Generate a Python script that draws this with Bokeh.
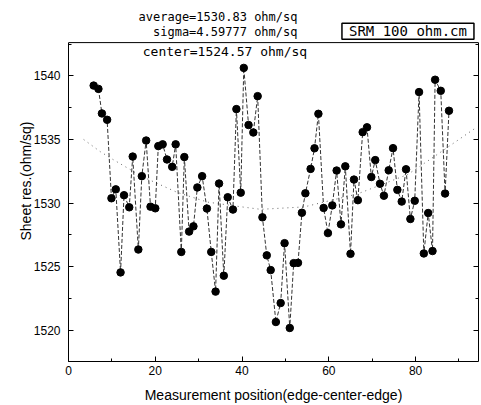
from bokeh.plotting import figure
from bokeh.models import (Range1d, LinearAxis, SingleIntervalTicker, Label, Span, Title,
                          CustomJSTickFormatter)
from bokeh.embed import file_html
from bokeh.resources import INLINE

# Measurement positions (edge-center-edge)
positions = [5.8, 6.9, 7.7, 8.9, 9.9, 10.9, 12.0, 12.8, 14.0, 14.8,
             16.1, 16.9, 17.9, 18.9, 20.0, 20.7, 21.7, 22.7, 23.9, 24.7,
             26.0, 26.7, 27.8, 28.8, 29.7, 30.8, 31.9, 32.9, 33.9, 34.7,
             35.8, 36.7, 37.9, 38.7, 39.7, 40.4, 41.5, 42.6, 43.6, 44.7,
             45.7, 46.6, 47.8, 48.9, 49.8, 51.0, 51.9, 52.9, 53.8, 54.6,
             55.8, 56.7, 57.6, 58.8, 59.8, 60.8, 61.8, 62.8, 63.8, 65.0,
             65.8, 66.7, 67.8, 68.8, 69.8, 70.7, 71.8, 72.7, 73.8, 74.8,
             75.8, 76.8, 77.8, 78.8, 79.8, 80.8, 81.9, 82.9, 83.9, 84.5,
             85.8, 86.8, 87.7]

# Sheet resistance (ohm/sq)
sheet_res = [1539.24, 1538.98, 1537.05, 1536.55, 1530.38, 1531.08, 1524.55, 1530.62, 1529.67, 1533.66,
             1526.35, 1532.12, 1534.92, 1529.72, 1529.59, 1534.48, 1534.62, 1533.43, 1532.85, 1534.62,
             1526.16, 1533.62, 1527.76, 1528.17, 1531.23, 1532.12, 1529.57, 1526.16, 1523.04, 1531.54,
             1524.29, 1530.46, 1529.49, 1537.39, 1530.82, 1540.63, 1536.14, 1535.55, 1538.41, 1528.88,
             1525.89, 1524.73, 1520.65, 1522.14, 1526.85, 1520.18, 1525.28, 1525.30, 1529.24, 1530.77,
             1532.69, 1534.31, 1537.02, 1529.62, 1527.64, 1529.82, 1532.56, 1528.33, 1532.89, 1526.01,
             1531.85, 1530.23, 1535.58, 1535.96, 1532.05, 1533.38, 1531.52, 1530.58, 1532.58, 1534.32,
             1531.04, 1530.12, 1532.66, 1528.75, 1530.18, 1538.73, 1526.04, 1529.22, 1526.23, 1539.70,
             1538.83, 1530.75, 1537.26]

# Trend curve
trend_x = [3.5, 7.3, 10.0, 17.0, 25.0, 32.0, 40.0, 44.3, 54.3, 66.6, 78.2, 84.3, 93.5]
trend_y = [1535.00, 1534.05, 1533.48, 1532.08, 1530.85, 1530.08, 1529.70, 1529.51,
           1529.70, 1530.72, 1532.25, 1533.66, 1535.83]

stat_lines = ["average=1530.83 ohm/sq", "sigma=4.59777 ohm/sq"]
center_text = "center=1524.57 ohm/sq"
box_text = "SRM 100 ohm.cm"
x_label = "Measurement position(edge-center-edge)"
y_label = "Sheet res.(ohm/sq)"

X0, X1 = 0, 94.5          # x axis range
Y0, Y_TOP = 1517.545, 1542.62   # visible y axis range (frame box)
Y_CANVAS = 1545.93        # extended range so the header texts are not clipped

p = figure(width=481, height=405, output_backend="svg", toolbar_location=None,
           x_range=Range1d(X0, X1), y_range=Range1d(Y0, Y_CANVAS),
           min_border_left=68, min_border_right=3, min_border_top=0, min_border_bottom=44)
p.background_fill_color = "white"
p.border_fill_color = "white"
p.outline_line_color = None
p.xgrid.visible = False
p.ygrid.visible = False

# top edge of the plot box
p.add_layout(Span(location=Y_TOP, dimension="width", line_color="black", line_width=1))

p.line(trend_x, trend_y, line_color="#666666", line_width=1, line_dash="1 4")
p.line(positions, sheet_res, line_color="#333333", line_width=1, line_dash="4 2")
p.scatter(positions, sheet_res, size=7.5, marker="circle", fill_color="black", line_color="black")

tick_font = "Liberation Sans"
for ax in (p.xaxis[0], p.yaxis[0]):
    ax.major_tick_in = 5
    ax.major_tick_out = 0
    ax.minor_tick_in = 3
    ax.minor_tick_out = 0
    ax.axis_line_color = "black"
    ax.major_tick_line_color = "black"
    ax.minor_tick_line_color = "black"
    ax.major_label_text_font = tick_font
    ax.major_label_text_font_size = "12px"
    ax.major_label_text_color = "black"
    ax.axis_label_text_font = tick_font
    ax.axis_label_text_font_size = "14px"
    ax.axis_label_text_font_style = "normal"
    ax.axis_label_text_color = "black"

p.xaxis[0].ticker = SingleIntervalTicker(interval=20, num_minor_ticks=2)
p.yaxis[0].ticker = SingleIntervalTicker(interval=5, num_minor_ticks=2)
p.yaxis[0].bounds = (Y0, Y_TOP)
p.xaxis[0].axis_label = x_label
p.xaxis[0].major_label_standoff = 4
p.xaxis[0].axis_label_standoff = 9
p.yaxis[0].major_label_standoff = 8

# y axis title placed in the left panel so it can be centred on the plot box
p.add_layout(Title(text=y_label, align="center", offset=-29, standoff=-6,
                   text_font=tick_font, text_font_size="14px", text_font_style="normal",
                   text_color="black"), "left")

right_ax = LinearAxis(ticker=SingleIntervalTicker(interval=5, num_minor_ticks=2),
                      formatter=CustomJSTickFormatter(code="return ''"),
                      bounds=(Y0, Y_TOP),
                      major_label_text_font_size="1px",
                      major_tick_in=5, major_tick_out=0, minor_tick_in=3, minor_tick_out=0,
                      major_label_standoff=0, axis_line_color="black",
                      major_tick_line_color="black", minor_tick_line_color="black")
p.add_layout(right_ax, "right")

mono = "DejaVu Sans Mono"
p.add_layout(Label(x=52.78, y=1544.66, text=stat_lines[0],
                   text_align="right", text_baseline="middle",
                   text_font=mono, text_font_size="12px", text_color="black"))
p.add_layout(Label(x=52.78, y=1543.48, text=stat_lines[1],
                   text_align="right", text_baseline="middle",
                   text_font=mono, text_font_size="12px", text_color="black"))
p.add_layout(Label(x=55.0, y=1541.95, text=center_text, text_align="right", text_baseline="middle",
                   text_font=mono, text_font_size="13px", text_color="black"))
p.add_layout(Label(x=78.24, y=1543.52, text=box_text,
                   text_align="center", text_baseline="middle",
                   text_font=mono, text_font_size="14px", text_color="black",
                   border_line_color="black", border_line_width=1.5,
                   background_fill_color="white",
                   padding=dict(left=7, right=7, top=0, bottom=0)))

open("out.html", "w").write(file_html(p, INLINE))
